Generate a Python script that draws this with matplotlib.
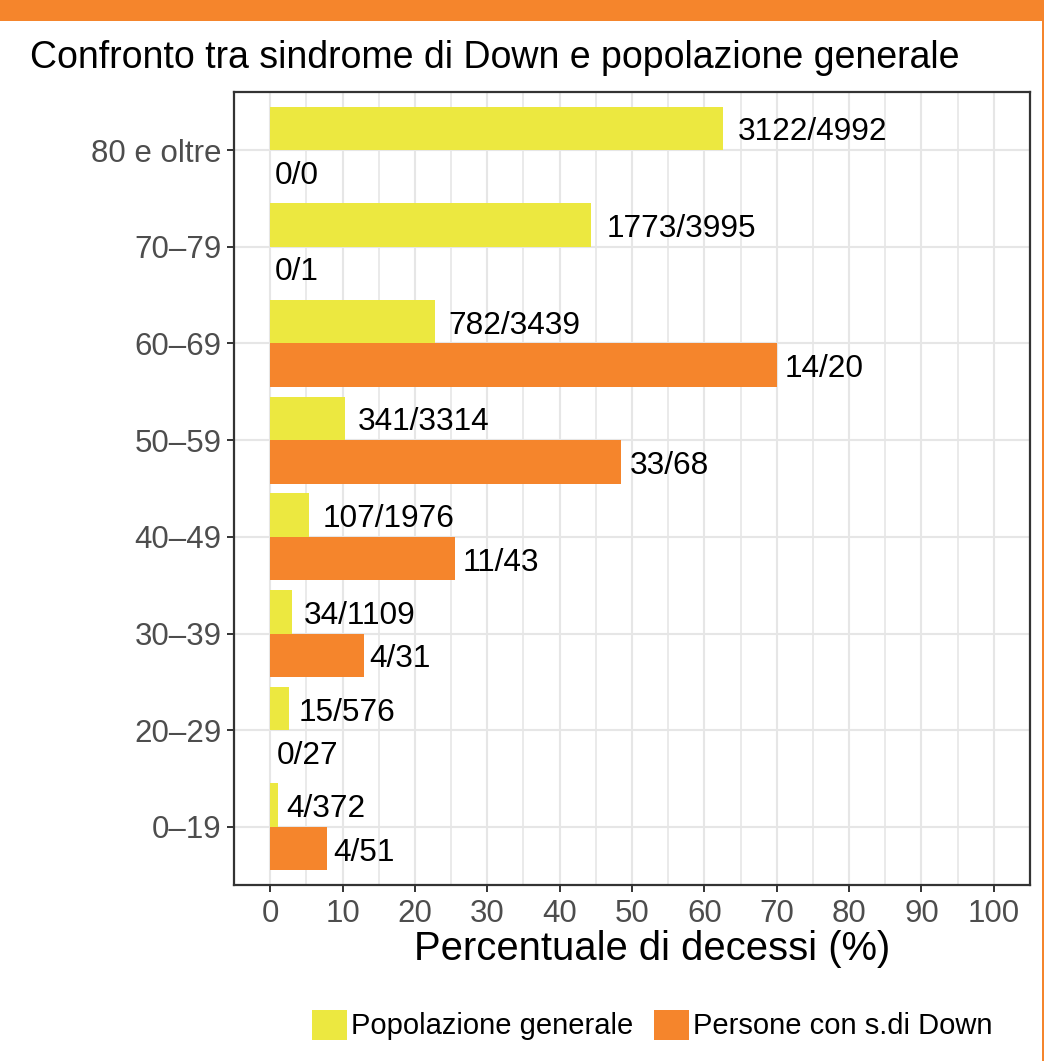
import matplotlib
matplotlib.use("Agg")
import matplotlib.pyplot as plt
import matplotlib.transforms as mtransforms
from matplotlib.patches import Patch, Rectangle
import numpy as np

plt.rcParams['font.family'] = ['Liberation Sans', 'DejaVu Sans']

# Data (bottom to top)
categories = ["0\u201319", "20\u201329", "30\u201339", "40\u201349", "50\u201359", "60\u201369", "70\u201379", "80 e oltre"]
gen_deaths = [4, 15, 34, 107, 341, 782, 1773, 3122]
gen_total = [372, 576, 1109, 1976, 3314, 3439, 3995, 4992]
ds_deaths = [4, 0, 4, 11, 33, 14, 0, 0]
ds_total = [51, 27, 31, 43, 68, 20, 1, 0]
series_names = ["Popolazione generale", "Persone con s.di Down"]
xticks = [0, 10, 20, 30, 40, 50, 60, 70, 80, 90, 100]

YELLOW = '#ECE840'
ORANGE = '#F5852C'

def pct(d, t):
    return [100.0 * a / b if b > 0 else 0.0 for a, b in zip(d, t)]

gen_pct = pct(gen_deaths, gen_total)
ds_pct = pct(ds_deaths, ds_total)

W, H = 1044, 1061
fig = plt.figure(figsize=(W / 100, H / 100), dpi=100)
fig.patch.set_facecolor('white')

# Orange frame elements
fig.patches.append(Rectangle((0, 1 - 21 / H), 1, 21 / H, transform=fig.transFigure,
                             facecolor=ORANGE, edgecolor='none', zorder=0))
fig.patches.append(Rectangle((1 - 2.5 / W, 0), 2.5 / W, 1, transform=fig.transFigure,
                             facecolor=ORANGE, edgecolor='none', zorder=0))

ax = fig.add_axes([234 / W, 1 - 885 / H, (1030 - 234) / W, (885 - 92) / H])

y = np.arange(len(categories))
h = 0.45
ax.barh(y + h / 2, gen_pct, height=h, color=YELLOW, zorder=3)
ax.barh(y - h / 2, ds_pct, height=h, color=ORANGE, zorder=3)

ax.set_xlim(-5, 105)
ax.set_ylim(-0.6, len(categories) - 0.4)
ax.set_xticks(xticks)
ax.set_xticks(np.arange(5, 100, 10), minor=True)
ax.set_yticks(y)
ax.set_yticklabels(categories)
ax.tick_params(axis='both', which='major', labelsize=22.5, labelcolor='#4D4D4D',
               color='#333333', length=5, width=1.4, direction='out')
ax.tick_params(axis='x', pad=5)
ax.tick_params(axis='y', pad=4)
ax.tick_params(axis='x', which='minor', length=0)
ax.grid(True, which='major', color='#E6E6E6', lw=1.5, zorder=0)
ax.grid(True, which='minor', axis='x', color='#E6E6E6', lw=1.2, zorder=0)
ax.set_axisbelow(True)
for s in ax.spines.values():
    s.set_color('#333333')
    s.set_linewidth(1.6)

texts = []
for i in range(len(categories)):
    texts.append(ax.text(gen_pct[i], y[i] + h / 2, f"{gen_deaths[i]}/{gen_total[i]}",
                         ha='left', va='center', fontsize=22.8, color='black', zorder=4))
    texts.append(ax.text(ds_pct[i], y[i] - h / 2, f"{ds_deaths[i]}/{ds_total[i]}",
                         ha='left', va='center', fontsize=22.8, color='black', zorder=4))

fig.text(30 / W, 1 - 68 / H, "Confronto tra sindrome di Down e popolazione generale",
         fontsize=27, color='black', va='baseline', ha='left')
fig.text(652 / W, 1 - 960 / H, "Percentuale di decessi (%)", fontsize=28.8,
         color='black', va='baseline', ha='center')

handles = [Patch(facecolor=YELLOW, edgecolor='none'), Patch(facecolor=ORANGE, edgecolor='none')]
fig.legend(handles, series_names, loc='center', bbox_to_anchor=(652 / W, 1 - 1025 / H),
           ncol=2, frameon=False, fontsize=21, handlelength=1.2, handleheight=1.2,
           handletextpad=0.15, columnspacing=0.7, borderpad=0)

fig.canvas.draw()
renderer = fig.canvas.get_renderer()
for t in texts:
    w = t.get_window_extent(renderer).width
    t.set_transform(ax.transData + mtransforms.Affine2D().translate(0.1 * w, -4))

fig.savefig("out.png", dpi=100)
